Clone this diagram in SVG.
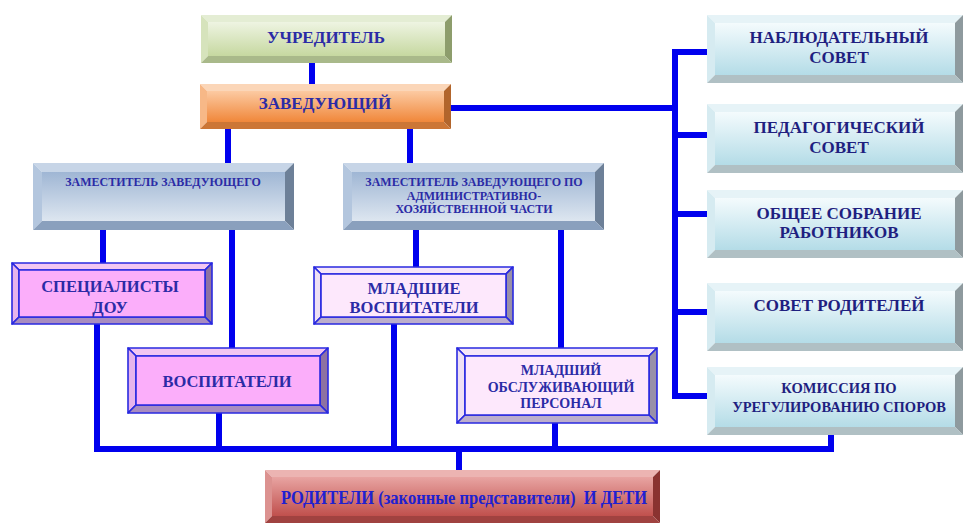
<svg xmlns="http://www.w3.org/2000/svg" width="966" height="524" viewBox="0 0 966 524">
<defs>
<linearGradient id="gGreen" x1="0" y1="0" x2="0" y2="1"><stop offset="0" stop-color="#eef4e2"/><stop offset="1" stop-color="#c6d8a0"/></linearGradient>
<linearGradient id="gOrange" x1="0" y1="0" x2="0" y2="1"><stop offset="0" stop-color="#fccaa2"/><stop offset="1" stop-color="#f0873a"/></linearGradient>
<linearGradient id="gSteel" x1="0" y1="0" x2="0" y2="1"><stop offset="0" stop-color="#9fb6d4"/><stop offset="1" stop-color="#dde6f0"/></linearGradient>
<linearGradient id="gCyan" x1="0" y1="0" x2="0" y2="1"><stop offset="0" stop-color="#f4fbfd"/><stop offset="1" stop-color="#b4dce7"/></linearGradient>
<linearGradient id="gRed" x1="0" y1="0" x2="0" y2="1"><stop offset="0" stop-color="#e8a4a2"/><stop offset="1" stop-color="#c0504d"/></linearGradient>
</defs>
<style>
text{font-family:"Liberation Serif","DejaVu Serif","Times New Roman",serif}
.t{font-weight:bold;text-anchor:middle;fill:#2b2ba6}
.rt{fill:#1f1f80}
.con{fill:none;stroke:#0000ee;stroke-width:6;stroke-linejoin:miter;stroke-linecap:butt}
.green .bt{fill:#e4edd4}.green .bl{fill:#d6e3bc}.green .br{fill:#8d9d6c}.green .bb{fill:#a9b98a}.green .in{fill:url(#gGreen)}
.orange .bt{fill:#fbd6b8}.orange .bl{fill:#f7b887}.orange .br{fill:#b2652c}.orange .bb{fill:#cc7636}.orange .in{fill:url(#gOrange)}
.steel .bt{fill:#c7d5e7}.steel .bl{fill:#b3c6de}.steel .br{fill:#6d8098}.steel .bb{fill:#8aa0bd}.steel .in{fill:url(#gSteel)}
.cyan .bt{fill:#e6f3f7}.cyan .bl{fill:#d6ebf1}.cyan .br{fill:#8e9a9e}.cyan .bb{fill:#b0c0c4}.cyan .in{fill:url(#gCyan)}
.red .bt{fill:#ecb4b2}.red .bl{fill:#dc9290}.red .br{fill:#8a3230}.red .bb{fill:#a04240}.red .in{fill:url(#gRed)}
.pink polygon,.pink rect,.lpink polygon,.lpink rect{stroke:#2a2ae0;stroke-width:1.6;stroke-linejoin:round}
.pink .bt{fill:#f2c6f2}.pink .bl{fill:#e6b4ec}.pink .br{fill:#8e72a2}.pink .bb{fill:#a88cc0}.pink .in{fill:#fbaefa}
.lpink .bt{fill:#f6e6f8}.lpink .bl{fill:#eee0f4}.lpink .br{fill:#9890a8}.lpink .bb{fill:#bcaecc}.lpink .in{fill:#fde8fc}
</style>

<g id="connectors">
<path class="con" d="M312,63V84"/>
<path class="con" d="M451,108H675"/>
<path class="con" d="M675,49V399"/>
<path class="con" d="M672,52H707M675,135H707M675,214H707M675,312H707M672,396H707"/>
<path class="con" d="M228,129V163M410,129V163"/>
<path class="con" d="M103,230V263M232,230V348"/>
<path class="con" d="M416,230V267M561,230V348"/>
<path class="con" d="M97,324V449H831V435"/>
<path class="con" d="M219,413V446M394,324V446M555,423V446"/>
<path class="con" d="M459,446V470"/>
</g>

<g id="uchreditel" class="green">
<polygon class="bt" points="201,15 452,15 445,22 208,22"/>
<polygon class="bl" points="201,15 208,22 208,56 201,63"/>
<polygon class="br" points="452,15 452,63 445,56 445,22"/>
<polygon class="bb" points="201,63 452,63 445,56 208,56"/>
<rect class="in" x="208" y="22" width="237" height="34"/>
<text class="t" x="326" y="43" font-size="17">УЧРЕДИТЕЛЬ</text>
</g>

<g id="zaveduyushchiy" class="orange">
<polygon class="bt" points="200,84 451,84 444,91 207,91"/>
<polygon class="bl" points="200,84 207,91 207,122 200,129"/>
<polygon class="br" points="451,84 451,129 444,122 444,91"/>
<polygon class="bb" points="200,129 451,129 444,122 207,122"/>
<rect class="in" x="207" y="91" width="237" height="31"/>
<text class="t" x="325" y="109" font-size="17">ЗАВЕДУЮЩИЙ</text>
</g>

<g id="zam1" class="steel">
<polygon class="bt" points="33,163 294,163 285,172 42,172"/>
<polygon class="bl" points="33,163 42,172 42,221 33,230"/>
<polygon class="br" points="294,163 294,230 285,221 285,172"/>
<polygon class="bb" points="33,230 294,230 285,221 42,221"/>
<rect class="in" x="42" y="172" width="243" height="49"/>
<text class="t" x="163" y="186" font-size="12">ЗАМЕСТИТЕЛЬ ЗАВЕДУЮЩЕГО</text>
</g>

<g id="zam2" class="steel">
<polygon class="bt" points="343,163 604,163 595,172 352,172"/>
<polygon class="bl" points="343,163 352,172 352,221 343,230"/>
<polygon class="br" points="604,163 604,230 595,221 595,172"/>
<polygon class="bb" points="343,230 604,230 595,221 352,221"/>
<rect class="in" x="352" y="172" width="243" height="49"/>
<text class="t" x="474" y="186" font-size="12">ЗАМЕСТИТЕЛЬ ЗАВЕДУЮЩЕГО ПО</text>
<text class="t" x="474" y="199.5" font-size="12">АДМИНИСТРАТИВНО-</text>
<text class="t" x="474" y="213" font-size="12">ХОЗЯЙСТВЕННОЙ ЧАСТИ</text>
</g>

<g id="specialisty" class="pink">
<polygon class="bt" points="12,263 212,263 205,270 19,270"/>
<polygon class="bl" points="12,263 19,270 19,317 12,324"/>
<polygon class="br" points="212,263 212,324 205,317 205,270"/>
<polygon class="bb" points="12,324 212,324 205,317 19,317"/>
<rect class="in" x="19" y="270" width="186" height="47"/>
<text class="t" x="110" y="292" font-size="16.5">СПЕЦИАЛИСТЫ</text>
<text class="t" x="110" y="313" font-size="16.5">ДОУ</text>
</g>

<g id="vospitateli" class="pink">
<polygon class="bt" points="128,348 328,348 320,356 136,356"/>
<polygon class="bl" points="128,348 136,356 136,405 128,413"/>
<polygon class="br" points="328,348 328,413 320,405 320,356"/>
<polygon class="bb" points="128,413 328,413 320,405 136,405"/>
<rect class="in" x="136" y="356" width="184" height="49"/>
<text class="t" x="227" y="387" font-size="16.5">ВОСПИТАТЕЛИ</text>
</g>

<g id="mladshie-vospitateli" class="lpink">
<polygon class="bt" points="314,267 513,267 506,274 321,274"/>
<polygon class="bl" points="314,267 321,274 321,317 314,324"/>
<polygon class="br" points="513,267 513,324 506,317 506,274"/>
<polygon class="bb" points="314,324 513,324 506,317 321,317"/>
<rect class="in" x="321" y="274" width="185" height="43"/>
<text class="t" x="414" y="294" font-size="16.5">МЛАДШИЕ</text>
<text class="t" x="414" y="313" font-size="16.5">ВОСПИТАТЕЛИ</text>
</g>

<g id="mladshiy-personal" class="lpink">
<polygon class="bt" points="457,348 657,348 649,356 465,356"/>
<polygon class="bl" points="457,348 465,356 465,415 457,423"/>
<polygon class="br" points="657,348 657,423 649,415 649,356"/>
<polygon class="bb" points="457,423 657,423 649,415 465,415"/>
<rect class="in" x="465" y="356" width="184" height="59"/>
<text class="t" x="561" y="375" font-size="14">МЛАДШИЙ</text>
<text class="t" x="561" y="392" font-size="14">ОБСЛУЖИВАЮЩИЙ</text>
<text class="t" x="561" y="408" font-size="14">ПЕРСОНАЛ</text>
</g>

<g id="nablyudatelnyy-sovet" class="cyan">
<polygon class="bt" points="707,15 963,15 955,23 715,23"/>
<polygon class="bl" points="707,15 715,23 715,75 707,83"/>
<polygon class="br" points="963,15 963,83 955,75 955,23"/>
<polygon class="bb" points="707,83 963,83 955,75 715,75"/>
<rect class="in" x="715" y="23" width="240" height="52"/>
<text class="t rt" x="839" y="43" font-size="17">НАБЛЮДАТЕЛЬНЫЙ</text>
<text class="t rt" x="839" y="63" font-size="17">СОВЕТ</text>
</g>

<g id="pedagogicheskiy-sovet" class="cyan">
<polygon class="bt" points="707,104 963,104 955,112 715,112"/>
<polygon class="bl" points="707,104 715,112 715,165 707,173"/>
<polygon class="br" points="963,104 963,173 955,165 955,112"/>
<polygon class="bb" points="707,173 963,173 955,165 715,165"/>
<rect class="in" x="715" y="112" width="240" height="53"/>
<text class="t rt" x="839" y="133" font-size="17">ПЕДАГОГИЧЕСКИЙ</text>
<text class="t rt" x="839" y="153" font-size="17">СОВЕТ</text>
</g>

<g id="obshchee-sobranie" class="cyan">
<polygon class="bt" points="707,190 963,190 955,198 715,198"/>
<polygon class="bl" points="707,190 715,198 715,250 707,258"/>
<polygon class="br" points="963,190 963,258 955,250 955,198"/>
<polygon class="bb" points="707,258 963,258 955,250 715,250"/>
<rect class="in" x="715" y="198" width="240" height="52"/>
<text class="t rt" x="839" y="219" font-size="17">ОБЩЕЕ СОБРАНИЕ</text>
<text class="t rt" x="839" y="238" font-size="17">РАБОТНИКОВ</text>
</g>

<g id="sovet-roditeley" class="cyan">
<polygon class="bt" points="707,283 963,283 955,291 715,291"/>
<polygon class="bl" points="707,283 715,291 715,343 707,351"/>
<polygon class="br" points="963,283 963,351 955,343 955,291"/>
<polygon class="bb" points="707,351 963,351 955,343 715,343"/>
<rect class="in" x="715" y="291" width="240" height="52"/>
<text class="t rt" x="839" y="311" font-size="17">СОВЕТ РОДИТЕЛЕЙ</text>
</g>

<g id="komissiya" class="cyan">
<polygon class="bt" points="707,367 963,367 955,375 715,375"/>
<polygon class="bl" points="707,367 715,375 715,427 707,435"/>
<polygon class="br" points="963,367 963,435 955,427 955,375"/>
<polygon class="bb" points="707,435 963,435 955,427 715,427"/>
<rect class="in" x="715" y="375" width="240" height="52"/>
<text class="t rt" x="839" y="393" font-size="14.5">КОМИССИЯ ПО</text>
<text class="t rt" x="839" y="412" font-size="14.5">УРЕГУЛИРОВАНИЮ СПОРОВ</text>
</g>

<g id="roditeli" class="red">
<polygon class="bt" points="265,470 660,470 653,477 272,477"/>
<polygon class="bl" points="265,470 272,477 272,516 265,523"/>
<polygon class="br" points="660,470 660,523 653,516 653,477"/>
<polygon class="bb" points="265,523 660,523 653,516 272,516"/>
<rect class="in" x="272" y="477" width="381" height="39"/>
<text class="t" x="464" y="504" font-size="18" style="fill:#2020d0" textLength="366" lengthAdjust="spacingAndGlyphs" xml:space="preserve">РОДИТЕЛИ (законные представители)  И ДЕТИ</text>
</g>
</svg>
